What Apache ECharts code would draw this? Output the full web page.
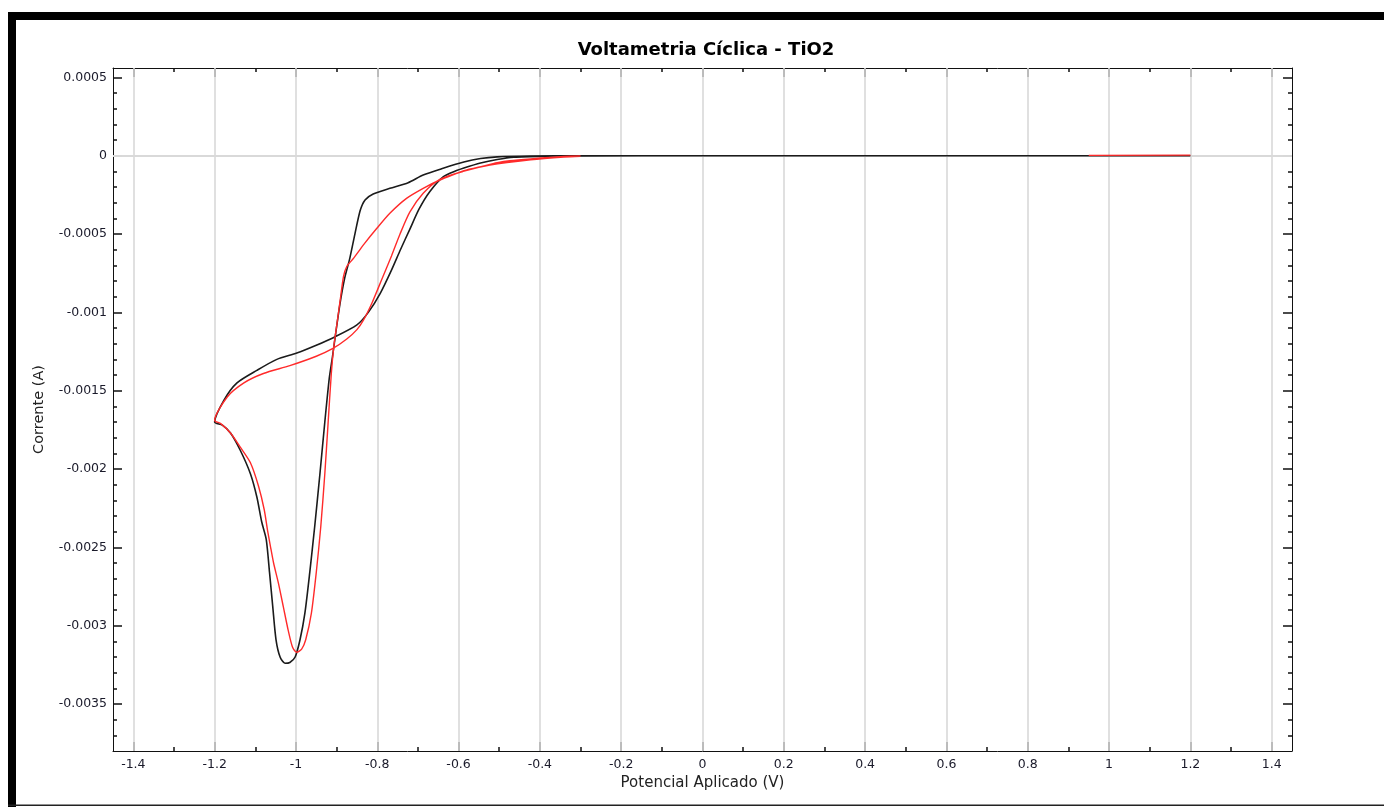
<!DOCTYPE html>
<html>
<head>
<meta charset="utf-8">
<script src="https://cdn.jsdelivr.net/npm/echarts@6/dist/echarts.min.js"></script>
<style>
html, body { margin: 0; padding: 0; background: #fff; }
#chart { width: 1384px; height: 807px; }
</style>
</head>
<body>
<div id="chart"></div>
<script>
// tick labels
var xMajor = [-1.4, -1.2, -1, -0.8, -0.6, -0.4, -0.2, 0, 0.2, 0.4, 0.6, 0.8, 1, 1.2, 1.4];
var yMajor = [0.0005, 0, -0.0005, -0.001, -0.0015, -0.002, -0.0025, -0.003, -0.0035];

// black curve (potential V, current A)
var blackV = [1.2, 0.6, 0.0, -0.3, -0.423, -0.505, -0.546, -0.587, -0.638, -0.687, -0.724, -0.769, -0.81, -0.83,
  -0.842, -0.855, -0.868, -0.88, -0.892, -0.902, -0.91, -0.918, -0.929, -0.941, -0.954, -0.966, -0.978, -0.99,
  -1.002, -1.015, -1.027, -1.039, -1.049, -1.057, -1.065, -1.073, -1.084, -1.096, -1.112, -1.137, -1.161, -1.181, -1.2,
  -1.177, -1.145, -1.096, -1.047, -0.998, -0.95, -0.907, -0.85, -0.822, -0.793, -0.765, -0.743, -0.72, -0.697,
  -0.671, -0.638, -0.605, -0.587, -0.546, -0.505, -0.464, -0.382, -0.3, 0.18];
var blackI = [0, 0, 0, -0.000001, -0.000002, -0.0000076, -0.000018, -0.00004, -0.00008, -0.000123, -0.000172, -0.000208, -0.000244, -0.000282,
  -0.00035, -0.0005, -0.00066, -0.00078, -0.00095, -0.00113, -0.00128, -0.00142, -0.0017, -0.00203, -0.00237, -0.00266, -0.00292, -0.00309,
  -0.0032, -0.003235, -0.00324, -0.0032, -0.00309, -0.00288, -0.00266, -0.00245, -0.00234, -0.00218, -0.00203, -0.00188, -0.00177, -0.00172, -0.0017,
  -0.00156, -0.00145, -0.00137, -0.0013, -0.00126, -0.00121, -0.00116, -0.00108, -0.001, -0.00088, -0.00073, -0.0006, -0.00047, -0.00034,
  -0.00023, -0.000135, -0.000095, -0.000078, -0.000046, -0.000024, -0.00001, -0.000003, 0, 0];

// red curve (null = pen up)
var redV = [0.95, 1.2, null, -0.3, -0.341, -0.423, -0.474, -0.505, -0.54, -0.587, -0.605, -0.646, -0.687, -0.728, -0.769, -0.801,
  -0.834, -0.858, -0.875, -0.883, -0.891, -0.899, -0.907, -0.913, -0.921, -0.929, -0.939, -0.95, -0.962, -0.976, -0.986,
  -0.998, -1.008, -1.019, -1.031, -1.043, -1.055, -1.063, -1.07, -1.078, -1.092, -1.112, -1.137, -1.161, -1.185, -1.2,
  -1.169, -1.128, -1.08, -1.015, -0.95, -0.909, -0.875, -0.85, -0.834, -0.813, -0.789, -0.765, -0.744, -0.72, -0.687,
  -0.646, -0.589, -0.523, -0.423, -0.341, -0.3];
var redI = [0.000002, 0.000004, null, -0.000002, -0.000005, -0.00002, -0.000032, -0.000045, -0.000066, -0.000095, -0.000113, -0.000155, -0.000208, -0.000272, -0.000367, -0.000463,
  -0.000569, -0.000654, -0.000707, -0.000771, -0.000919, -0.00107, -0.00122, -0.00139, -0.00171, -0.00203, -0.00237, -0.00266, -0.00292, -0.00309, -0.00315,
  -0.00317, -0.00314, -0.00303, -0.00288, -0.00273, -0.0026, -0.00249, -0.00239, -0.00226, -0.00211, -0.00196, -0.00186, -0.00177, -0.00171, -0.00169,
  -0.00154, -0.00145, -0.00139, -0.00134, -0.00128, -0.00123, -0.00117, -0.00111, -0.00105, -0.00094, -0.00079, -0.00064, -0.0005, -0.00036, -0.00024,
  -0.000151, -0.0001, -0.00006, -0.000026, -0.000008, -0.000003];

function pairs(xs, ys) {
  return xs.map(function (x, i) { return x === null ? '-' : [x, ys[i]]; });
}
function minors(major, steps) {
  var out = [];
  for (var i = 0; i < major.length - 1; i++) {
    var a = major[i], b = major[i + 1];
    for (var k = 1; k < steps; k++) out.push(+(a + (b - a) * k / steps).toFixed(6));
  }
  return out;
}
var xMinor = minors(xMajor, 2);
var yMinor = minors(yMajor, 5).concat([-0.0036, -0.0037]);

var tickFont = 'DejaVu Sans, Verdana, sans-serif';
var xMin = -1.45, xMax = 1.45, yMin = -0.0038, yMax = 0.00056;

function xAx(pos, ticks, len, main) {
  return {
    type: 'value', position: pos, min: xMin, max: xMax,
    axisLine: { show: main, onZero: false, lineStyle: { color: '#111', width: 1 } },
    axisTick: { inside: true, length: len, customValues: ticks, lineStyle: { color: '#111', width: 1.5 } },
    axisLabel: main && pos === 'bottom' ? {
      customValues: xMajor, margin: 7, color: '#1a1a2a', fontSize: 12.5, fontFamily: tickFont,
      formatter: function (v) { return String(+v.toFixed(4)); }
    } : { show: false },
    splitLine: { show: false },
    name: main && pos === 'bottom' ? 'Potencial Aplicado (V)' : '',
    nameLocation: 'middle', nameGap: 25,
    nameTextStyle: { fontSize: 15, color: '#222', fontFamily: tickFont }
  };
}
function yAx(pos, ticks, len, main) {
  return {
    type: 'value', position: pos, min: yMin, max: yMax,
    axisLine: { show: main, onZero: false, lineStyle: { color: '#111', width: 1 } },
    axisTick: { inside: true, length: len, customValues: ticks, lineStyle: { color: '#111', width: 1.5 } },
    axisLabel: main && pos === 'left' ? {
      customValues: yMajor, margin: 6, color: '#1a1a2a', fontSize: 12.5, fontFamily: tickFont,
      formatter: function (v) { return String(+v.toFixed(6)); }
    } : { show: false },
    splitLine: { show: false },
    name: main && pos === 'left' ? 'Corrente (A)' : '',
    nameLocation: 'middle', nameGap: 66,
    nameTextStyle: { fontSize: 14.5, color: '#222', fontFamily: tickFont }
  };
}

var chart = echarts.init(document.getElementById('chart'), null, { renderer: 'canvas' });
chart.setOption({
  animation: false,
  backgroundColor: '#fff',
  title: {
    text: 'Voltametria Cíclica - TiO2',
    left: 701, top: 36, textAlign: 'center',
    textStyle: { fontFamily: 'DejaVu Sans', fontWeight: 'bold', fontSize: 18, color: '#000' }
  },
  grid: { left: 113, top: 68, right: 92, bottom: 56, containLabel: false },
  xAxis: [
    xAx('bottom', xMajor, 9, true), xAx('bottom', xMinor, 4, false),
    xAx('top', xMajor, 9, true), xAx('top', xMinor, 4, false)
  ],
  yAxis: [
    yAx('left', yMajor, 9, true), yAx('left', yMinor, 4, false),
    yAx('right', yMajor, 9, true), yAx('right', yMinor, 4, false)
  ],
  graphic: [
    { type: 'rect', shape: { x: 8, y: 12, width: 1376, height: 8 }, style: { fill: '#000' } },
    { type: 'rect', shape: { x: 8, y: 12, width: 8, height: 795 }, style: { fill: '#000' } },
    { type: 'rect', shape: { x: 8, y: 804.5, width: 1376, height: 1.5 }, style: { fill: '#222' } }
  ],
  series: [
    {
      type: 'line', data: [], z: 1, silent: true,
      markLine: {
        z: 1, silent: true, symbol: ['none', 'none'], animation: false,
        label: { show: false },
        lineStyle: { color: '#d9d9d9', width: 1.6, type: 'solid' },
        emphasis: { disabled: true },
        data: xMajor.map(function (v) { return { xAxis: v }; })
          .concat(yMajor.map(function (v) { return { yAxis: v }; }))
      }
    },
    {
      name: 'black', type: 'line', data: pairs(blackV, blackI), z: 3,
      showSymbol: false, smooth: 0.25, connectNulls: false,
      lineStyle: { color: '#1b1b1b', width: 1.6 }
    },
    {
      name: 'red', type: 'line', data: pairs(redV, redI), z: 4,
      showSymbol: false, smooth: 0.25, connectNulls: false,
      lineStyle: { color: '#ff2a2a', width: 1.4 }
    }
  ]
});
</script>
</body>
</html>
